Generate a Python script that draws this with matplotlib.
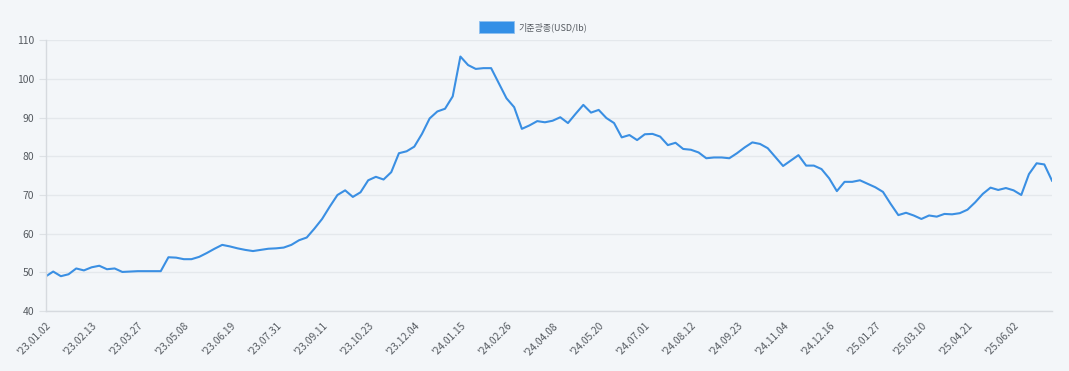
import pandas as pd
import matplotlib
matplotlib.use("Agg")
import matplotlib.pyplot as plt
from matplotlib.patches import Patch

plt.rcParams['font.family'] = ['Noto Sans CJK KR', 'DejaVu Sans']

# weekly price, USD/lb
prices = [
    48.9, 50.2, 49.0, 49.5, 51.0, 50.5, 51.3, 51.7, 50.8, 51.0,
    50.1, 50.2, 50.3, 50.3, 50.3, 50.3, 53.9, 53.8, 53.4,
    53.4, 54.0, 55.0, 56.1, 57.1, 56.7, 56.2, 55.8, 55.5, 55.8,
    56.1, 56.2, 56.4, 57.1, 58.3, 59.0, 61.3, 63.8, 67.0,
    70.0, 71.2, 69.5, 70.7, 73.8, 74.7, 74.0, 75.9, 80.8, 81.3,
    82.5, 85.8, 89.8, 91.6, 92.3, 95.5, 105.8, 103.6, 102.6, 102.8,
    102.8, 98.9, 95.0, 92.7, 87.1, 88.0, 89.1, 88.8, 89.2, 90.1,
    88.6, 91.0, 93.3, 91.3, 92.0, 89.9, 88.6,
    84.9, 85.5, 84.2, 85.7, 85.8, 85.1, 82.9, 83.5, 81.9, 81.7,
    81.0, 79.5, 79.7, 79.7, 79.5, 80.8, 82.3, 83.6, 83.2,
    82.1, 79.8, 77.5, 78.9, 80.3, 77.6, 77.6, 76.7, 74.3, 71.0,
    73.4, 73.4, 73.8, 72.9, 72.0, 70.8, 67.7, 64.8, 65.4, 64.7,
    63.8, 64.7, 64.4, 65.1, 65.0, 65.3, 66.2, 68.1, 70.3, 71.9,
    71.3, 71.8, 71.2, 70.0, 75.4, 78.2, 77.9, 73.7,
]
dates = pd.date_range("2023-01-02", periods=len(prices), freq="7D")
labels = [d.strftime("'%y.%m.%d") for d in dates]
series_name = "기준광종(USD/lb)"
yticks = [40, 50, 60, 70, 80, 90, 100, 110]

bg = "#f3f6f9"
line_color = "#3a8fe3"
text_color = "#555a60"

fig = plt.figure(figsize=(10.69, 3.71), dpi=100, facecolor=bg)
ax = fig.add_axes([45.5 / 1069, 60 / 371, (1052 - 45.5) / 1069, (311 - 40.3) / 371])
ax.set_facecolor(bg)

x = list(range(len(prices)))
ax.plot(x, prices, color=line_color, lw=1.5)

ax.set_xlim(0, len(prices) - 1)
ax.set_ylim(40, 110)
ax.set_yticks(yticks)
ax.grid(axis="y", color="#e4e8ec", lw=1)
ax.set_axisbelow(True)

step = 6
ax.set_xticks(x[::step])
ax.set_xticklabels(labels[::step], rotation=45, ha="right", va="top",
                   rotation_mode="anchor", fontsize=7.3, color=text_color)
ax.tick_params(axis="x", length=0, pad=7)
ax.tick_params(axis="y", length=5, color="#dde1e5", labelsize=7.5,
               labelcolor=text_color, pad=3)

for side in ["top", "right"]:
    ax.spines[side].set_visible(False)
for side in ["left", "bottom"]:
    ax.spines[side].set_color("#d6dadf")
    ax.spines[side].set_linewidth(1)

handle = Patch(facecolor="#338fe6", edgecolor="#8fc0f0", lw=0.6, label=series_name)
fig.legend(handles=[handle], loc="center", bbox_to_anchor=(533 / 1069, 1 - 27 / 371),
           frameon=False, fontsize=6.5, handlelength=3.8, handleheight=1.5,
           handletextpad=0.5, labelcolor=text_color)

fig.savefig("out.png", dpi=100, facecolor=bg)
